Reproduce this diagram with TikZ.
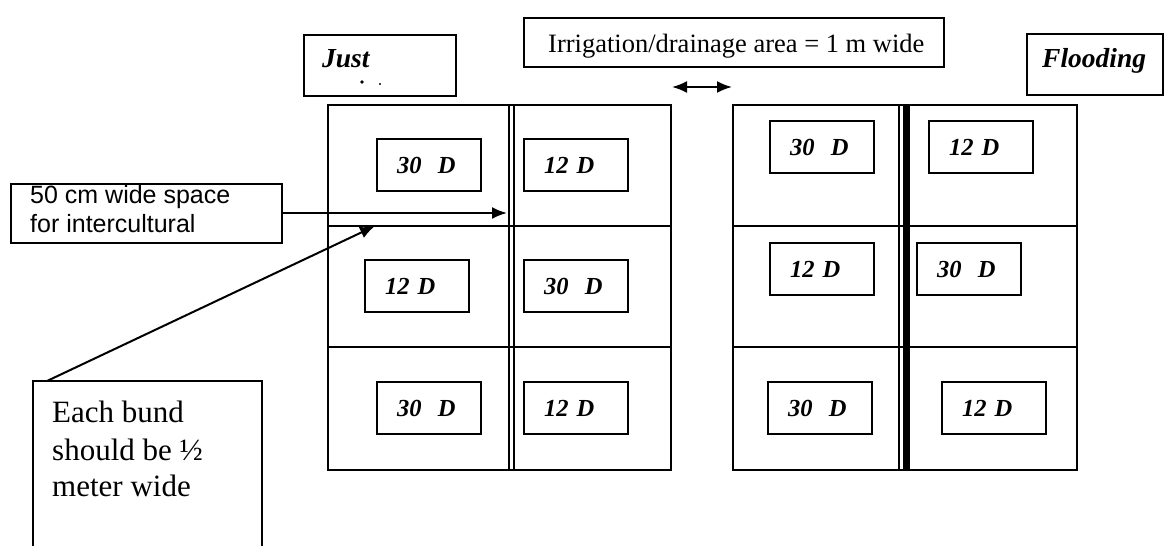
\documentclass[tikz,border=0pt]{standalone}
\usepackage{fontspec}
\setmainfont{Liberation Serif}
\newfontfamily\arialf{Liberation Sans}
\usetikzlibrary{arrows.meta}
\begin{document}
\begin{tikzpicture}[x=1pt,y=-1pt,
  ln/.style={line width=2.2pt},
  tbox/.style={draw, line width=2.2pt, inner sep=0pt, anchor=north west},
  cell/.style={draw, line width=2pt, anchor=north west, minimum height=52pt,
    text width=64pt, inner xsep=20pt, inner ysep=0pt, align=left,
    font=\bfseries\itshape\fontsize{24.5}{28}\selectfont},
  bi/.style={anchor=base west, inner sep=0pt, font=\bfseries\itshape\fontsize{27.5}{30}\selectfont},
  serif/.style={anchor=base west, inner sep=0pt, font=\fontsize{26.5}{30}\selectfont},
  bund/.style={anchor=base west, inner sep=0pt, font=\fontsize{31}{36}\selectfont},
  sans/.style={anchor=base west, inner sep=0pt, font=\arialf\fontsize{25}{29}\selectfont},
  arr/.style={line width=2pt, -{Latex[length=15pt,width=12pt]}},
  darr/.style={line width=2pt, {Latex[length=15pt,width=12pt]}-{Latex[length=15pt,width=12pt]}},
  ]
\useasboundingbox (0,0) rectangle (1165,546);

% title boxes
\node[tbox, minimum width=152pt, minimum height=61pt] (just) at (303,34) {};
\node[bi] (justt) at (322,67) {Just};
\fill (362,82) circle (1.8pt);
\fill (380,84) circle (1.1pt);

\node[tbox, minimum width=420pt, minimum height=49pt] (irr) at (523,17) {};
\node[serif] (irrt) at (548,52) {Irrigation/drainage area = 1 m wide};

\node[tbox, minimum width=136pt, minimum height=61pt] (flood) at (1026,33) {};
\node[bi] (floodt) at (1042,67) {Flooding};

% left grid
\node[tbox, minimum width=343pt, minimum height=365pt] (gridL) at (327,104) {};
\draw[ln] (327,226) -- (670,226);
\draw[ln] (327,347) -- (670,347);
\draw[ln] (509,104) -- (509,469);
\draw[ln] (514,104) -- (514,469);

% right grid
\node[tbox, minimum width=344pt, minimum height=365pt] (gridR) at (732,104) {};
\draw[ln] (732,226) -- (1076,226);
\draw[ln] (732,347) -- (1076,347);
\draw[ln] (899,104) -- (899,469);
\fill (903,104) rectangle (910,469);

% cells left
\node[cell] (L11) at (376,138) {30~ D};
\node[cell] (L12) at (523,138) {12 D};
\node[cell] (L21) at (364,259) {12 D};
\node[cell] (L22) at (523,259) {30~ D};
\node[cell] (L31) at (376,381) {30~ D};
\node[cell] (L32) at (523,381) {12 D};
% cells right
\node[cell] (R11) at (769,120) {30~ D};
\node[cell] (R12) at (928,120) {12 D};
\node[cell] (R21) at (769,242) {12 D};
\node[cell] (R22) at (916,242) {30~ D};
\node[cell] (R31) at (767,381) {30~ D};
\node[cell] (R32) at (941,381) {12 D};

% 50 cm box
\node[tbox, minimum width=271pt, minimum height=59pt] (fifty) at (10,183) {};
\node[sans] (fifty1) at (30,203) {50 cm wide space};
\node[sans] (fifty2) at (30,232) {for intercultural};

% bund box (open at bottom)
\draw[ln] (33,546) -- (33,381) -- (262,381) -- (262,546);
\coordinate (bundtop) at (47,381);
\node[bund] (b1) at (52,422) {Each bund};
\node[bund] (b2) at (52,460) {should be ½};
\node[bund] (b3) at (52,496) {meter wide};

% arrows
\coordinate (dblL) at (507,213);
\coordinate (hitL) at (375,226);
\coordinate (gapL) at (672,87);
\coordinate (gapR) at (732,87);
\draw[arr] (fifty.east |- dblL) -- (dblL);
\draw[arr] (bundtop) -- (hitL);
\draw[darr] (gapL) -- (gapR);
\end{tikzpicture}
\end{document}
